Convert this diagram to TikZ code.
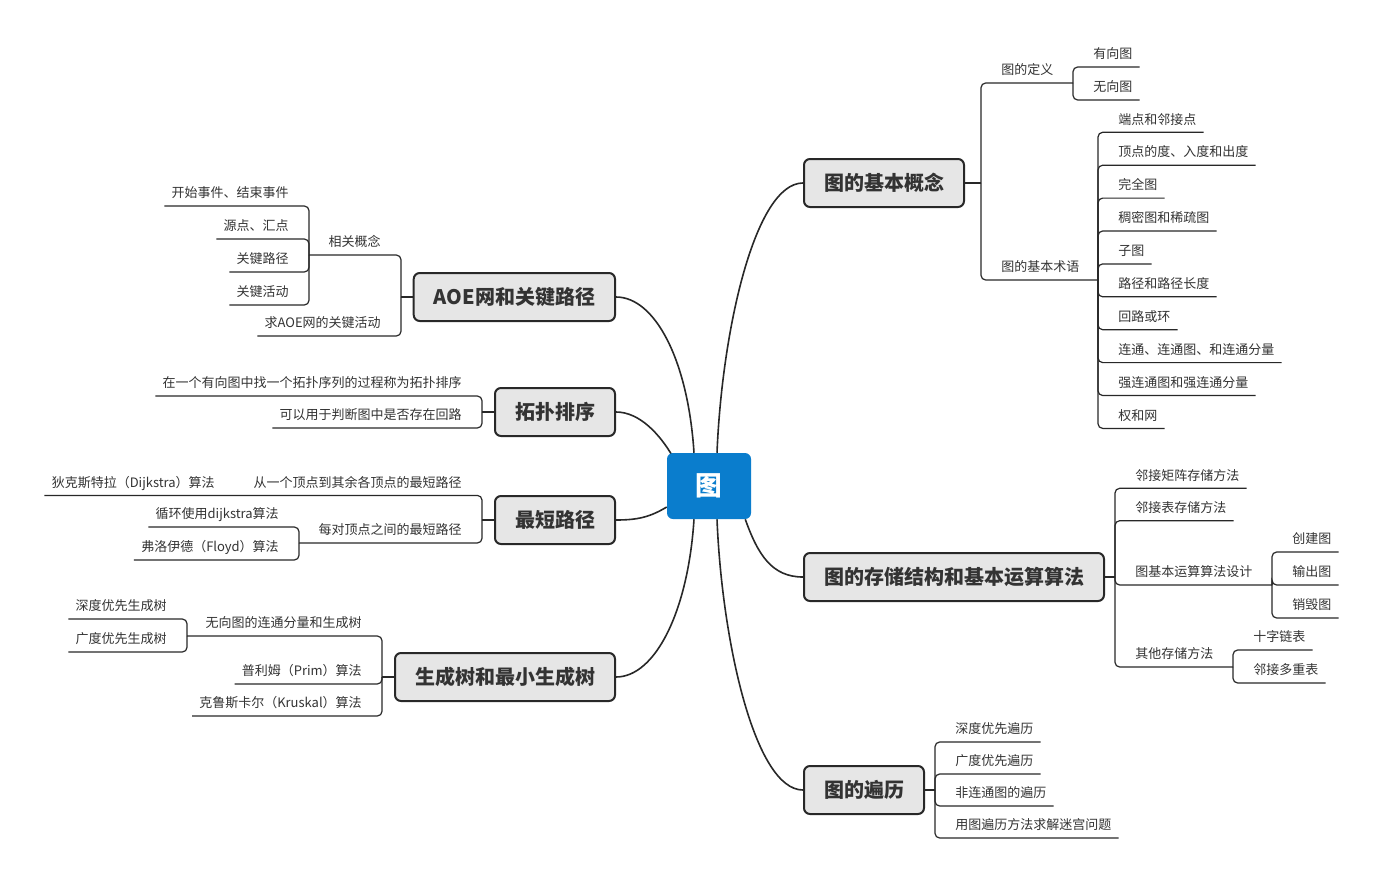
\documentclass[tikz,border=0pt]{standalone}
\usepackage{fontspec}
\setmainfont{Noto Sans CJK SC}
\usetikzlibrary{backgrounds}
\definecolor{rootblue}{RGB}{10,125,205}
\definecolor{boxfill}{RGB}{230,230,230}
\definecolor{ink}{RGB}{51,51,51}
\definecolor{lineink}{RGB}{40,40,40}
\begin{document}
\begin{tikzpicture}[x=0.75pt,y=-0.75pt,
  rootbox/.style={fill=rootblue, text=white, rounded corners=4.5pt,
    minimum width=63pt, minimum height=49.5pt, inner sep=0pt,
    font=\fontsize{20pt}{24pt}\selectfont\bfseries},
  topic/.style={fill=boxfill, draw=lineink, line width=1.5pt, rounded corners=4.5pt,
    text=ink, inner xsep=15pt, inner ysep=0pt, minimum height=36pt,
    font=\fontsize{15pt}{18pt}\selectfont\bfseries},
  leaf/.style={font=\fontsize{9.75pt}{12pt}\selectfont, text=ink,
    text height=8.5pt, text depth=1.5pt, inner xsep=5.25pt, inner ysep=4.5pt},
  rleaf/.style={leaf, anchor=south west},
  lleaf/.style={leaf, anchor=south east},
  conn/.style={draw=lineink, line width=0.9pt, rounded corners=3.5pt},
  mainline/.style={draw=lineink, line width=1.2pt}]
\useasboundingbox (0,0) rectangle (1381,882);

% ---------- root and topics ----------
\node[rootbox] (root) at (709,486) {图};
\node[topic, anchor=west] (t1) at (803,183) {图的基本概念};
\node[topic, anchor=west] (t2) at (803,577) {图的存储结构和基本运算算法};
\node[topic, anchor=west] (t3) at (803,790) {图的遍历};
\node[topic, anchor=east] (l1) at (616,297) {AOE网和关键路径};
\node[topic, anchor=east] (l2) at (616,412) {拓扑排序};
\node[topic, anchor=east] (l3) at (616,520) {最短路径};
\node[topic, anchor=east] (l4) at (616,677) {生成树和最小生成树};

% ---------- junctions ----------
\coordinate (j1) at (981,183);
\coordinate (jdef) at (1073,83);
\coordinate (jterm) at (1098,280);
\coordinate (j2) at (1115,577);
\coordinate (jop) at (1272,585);
\coordinate (joth) at (1233,667);
\coordinate (j3) at (935,790);
\coordinate (k1) at (401,297);
\coordinate (krel) at (309,255);
\coordinate (k2) at (482,412);
\coordinate (k3) at (482,520);
\coordinate (kone) at (235,495.4);
\coordinate (kpair) at (299,543);
\coordinate (k4) at (382,677);
\coordinate (kund) at (187,636);

% ---------- 图的基本概念 ----------
\node[rleaf] (def) at (994,83) {图的定义};
\node[rleaf] (dir) at (1086,67) {有向图};
\node[rleaf] (undir) at (1086,100) {无向图};
\node[rleaf] (term) at (994,280) {图的基本术语};
\node[rleaf] (a1) at (1111,132.3) {端点和邻接点};
\node[rleaf] (a2) at (1111,165.2) {顶点的度、入度和出度};
\node[rleaf] (a3) at (1111,198.1) {完全图};
\node[rleaf] (a4) at (1111,231.0) {稠密图和稀疏图};
\node[rleaf] (a5) at (1111,263.9) {子图};
\node[rleaf] (a6) at (1111,296.8) {路径和路径长度};
\node[rleaf] (a7) at (1111,329.7) {回路或环};
\node[rleaf] (a8) at (1111,362.6) {连通、连通图、和连通分量};
\node[rleaf] (a9) at (1111,395.5) {强连通图和强连通分量};
\node[rleaf] (a10) at (1111,428.4) {权和网};

\draw[conn] (t1.east) -- (j1);
\draw[conn] (j1) |- (def.south west) -- (def.south east) -- (jdef);
\draw[conn] (j1) |- (term.south west) -- (term.south east) -- (jterm);
\foreach \n in {dir,undir} \draw[conn] (jdef) |- (\n.south west) -- (\n.south east);
\foreach \n in {a1,a2,a3,a4,a5,a6,a7,a8,a9,a10} \draw[conn] (jterm) |- (\n.south west) -- (\n.south east);

% ---------- 图的存储结构和基本运算算法 ----------
\node[rleaf] (s1) at (1128,488.3) {邻接矩阵存储方法};
\node[rleaf] (s2) at (1128,520.7) {邻接表存储方法};
\node[rleaf] (s3) at (1128,585) {图基本运算算法设计};
\node[rleaf] (o1) at (1285,552) {创建图};
\node[rleaf] (o2) at (1285,585) {输出图};
\node[rleaf] (o3) at (1285,618) {销毁图};
\node[rleaf] (s4) at (1128,667) {其他存储方法};
\node[rleaf] (p1) at (1246,650) {十字链表};
\node[rleaf] (p2) at (1246,683) {邻接多重表};

\draw[conn] (t2.east) -- (j2);
\foreach \n in {s1,s2} \draw[conn] (j2) |- (\n.south west) -- (\n.south east);
\draw[conn] (j2) |- (s3.south west) -- (s3.south east) -- (jop);
\draw[conn] (j2) |- (s4.south west) -- (s4.south east) -- (joth);
\foreach \n in {o1,o2,o3} \draw[conn] (jop) |- (\n.south west) -- (\n.south east);
\foreach \n in {p1,p2} \draw[conn] (joth) |- (\n.south west) -- (\n.south east);

% ---------- 图的遍历 ----------
\node[rleaf] (r1) at (948,742) {深度优先遍历};
\node[rleaf] (r2) at (948,774) {广度优先遍历};
\node[rleaf] (r3) at (948,806) {非连通图的遍历};
\node[rleaf] (r4) at (948,838) {用图遍历方法求解迷宫问题};
\draw[conn] (t3.east) -- (j3);
\foreach \n in {r1,r2,r3,r4} \draw[conn] (j3) |- (\n.south west) -- (\n.south east);

% ---------- AOE网和关键路径 ----------
\node[lleaf] (rel) at (388,255) {相关概念};
\node[lleaf] (e1) at (296,206) {开始事件、结束事件};
\node[lleaf] (e2) at (296,239) {源点、汇点};
\node[lleaf] (e3) at (296,272) {关键路径};
\node[lleaf] (e4) at (296,305) {关键活动};
\node[lleaf] (aoe) at (388,336) {求AOE网的关键活动};
\draw[conn] (l1.west) -- (k1);
\draw[conn] (k1) |- (rel.south east) -- (rel.south west) -- (krel);
\draw[conn] (k1) |- (aoe.south east) -- (aoe.south west);
\foreach \n in {e1,e2,e3,e4} \draw[conn] (krel) |- (\n.south east) -- (\n.south west);

% ---------- 拓扑排序 ----------
\node[lleaf] (tp1) at (469,396) {在一个有向图中找一个拓扑序列的过程称为拓扑排序};
\node[lleaf] (tp2) at (469,428) {可以用于判断图中是否存在回路};
\draw[conn] (l2.west) -- (k2);
\foreach \n in {tp1,tp2} \draw[conn] (k2) |- (\n.south east) -- (\n.south west);

% ---------- 最短路径 ----------
\node[lleaf] (sp1) at (469,495.4) {从一个顶点到其余各顶点的最短路径};
\node[lleaf] (dij) at (222,495.4) {狄克斯特拉（Dijkstra）算法};
\node[lleaf] (sp2) at (469,543) {每对顶点之间的最短路径};
\node[lleaf] (q1) at (286,527) {循环使用dijkstra算法};
\node[lleaf] (q2) at (286,560) {弗洛伊德（Floyd）算法};
\draw[conn] (l3.west) -- (k3);
\draw[conn] (k3) |- (sp1.south east) -- (sp1.south west) -- (kone) -- (dij.south west);
\draw[conn] (k3) |- (sp2.south east) -- (sp2.south west) -- (kpair);
\foreach \n in {q1,q2} \draw[conn] (kpair) |- (\n.south east) -- (\n.south west);

% ---------- 生成树和最小生成树 ----------
\node[lleaf] (un) at (369,636) {无向图的连通分量和生成树};
\node[lleaf] (g1) at (174,619) {深度优先生成树};
\node[lleaf] (g2) at (174,652) {广度优先生成树};
\node[lleaf] (prim) at (369,684) {普利姆（Prim）算法};
\node[lleaf] (krus) at (369,716) {克鲁斯卡尔（Kruskal）算法};
\draw[conn] (l4.west) -- (k4);
\draw[conn] (k4) |- (un.south east) -- (un.south west) -- (kund);
\foreach \n in {prim,krus} \draw[conn] (k4) |- (\n.south east) -- (\n.south west);
\foreach \n in {g1,g2} \draw[conn] (kund) |- (\n.south east) -- (\n.south west);

% ---------- main curves ----------
\begin{scope}[on background layer]
\fill[white] (0,0) rectangle (1381,882);
\draw[mainline] ([xshift=6pt]root.north) .. controls (722,330) and (755,183) .. (t1.west);
\draw[mainline] ([xshift=-4.5pt]root.south east) .. controls (758,555) and (772,577) .. (t2.west);
\draw[mainline] ([xshift=6pt]root.south) .. controls (722,642) and (755,790) .. (t3.west);
\draw[mainline] ([xshift=-11.25pt]root.north) .. controls (688,360) and (655,297) .. (l1.east);
\draw[mainline] ([xshift=4pt,yshift=-2pt]root.north west) .. controls (660,435) and (640,412) .. (l2.east);
\draw[mainline] ([yshift=-15.75pt]root.west) .. controls (650,517) and (638,520) .. (l3.east);
\draw[mainline] ([xshift=-11.25pt]root.south) .. controls (688,612) and (655,677) .. (l4.east);
\end{scope}
\end{tikzpicture}
\end{document}
